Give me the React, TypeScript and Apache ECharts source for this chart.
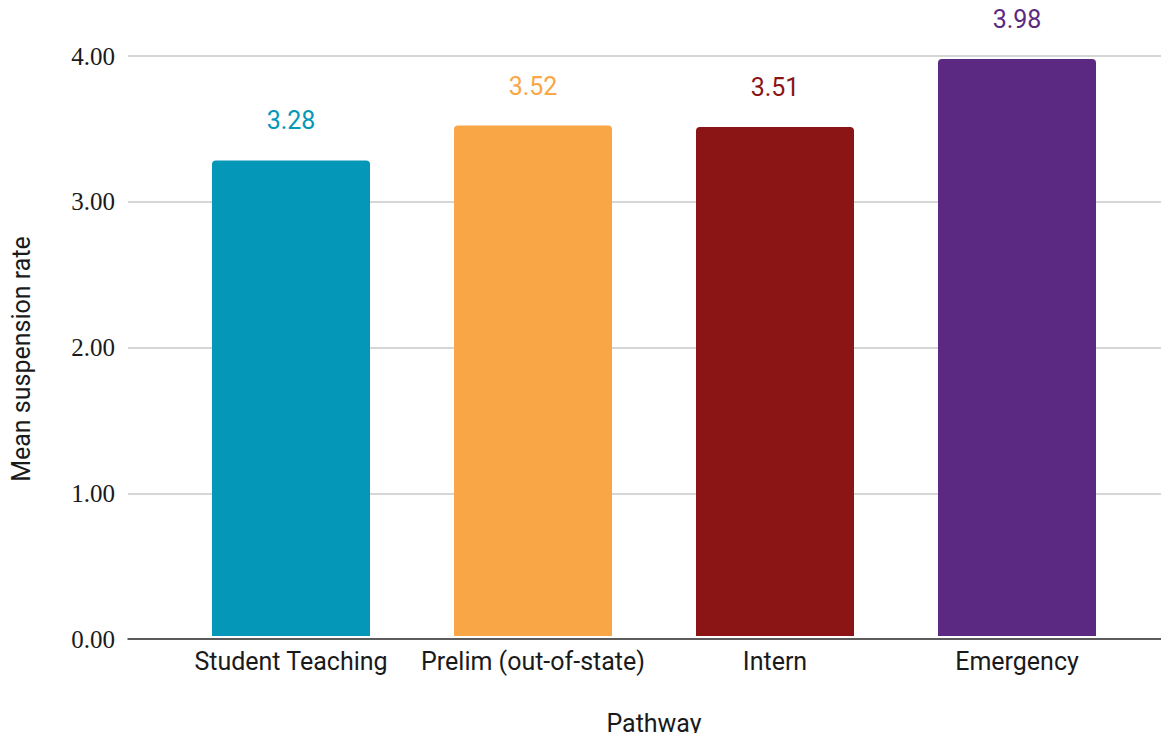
import React, { useEffect, useRef } from "react";
import * as echarts from "echarts";

const categories = ["Student Teaching", "Prelim (out-of-state)", "Intern", "Emergency"];
const values = [3.28, 3.52, 3.51, 3.98];
const barColors = ["#0497b7", "#f9a647", "#8b1515", "#5b2981"];
const yTicks = [0, 1, 2, 3, 4];

const SANS = "Roboto, 'Noto Sans', Arial, sans-serif";
const SERIF = "'Liberation Serif', 'Times New Roman', serif";

export default function App() {
  const ref = useRef<HTMLDivElement>(null);

  useEffect(() => {
    if (!ref.current) return;
    const chart = echarts.init(ref.current, null, { renderer: "svg" });
    const yMin = yTicks[0];
    const yMax = yTicks[yTicks.length - 1];

    chart.setOption({
      animation: false,
      backgroundColor: "#ffffff",
      grid: [
        // gridlines and value axis span the full width
        { left: 128, right: 0, top: 56, bottom: 102 },
        // bars sit in a slightly narrower band
        { left: 170, right: 31, top: 56, bottom: 102 },
      ],
      xAxis: [
        {
          gridIndex: 0,
          type: "value",
          min: 0,
          max: 1,
          axisLine: { show: true, onZero: true, lineStyle: { color: "#333333", width: 1.5 } },
          axisTick: { show: false },
          axisLabel: { show: false },
          splitLine: { show: false },
        },
        {
          gridIndex: 1,
          type: "category",
          data: categories,
          axisLine: { show: false },
          axisTick: { show: false },
          axisLabel: {
            color: "#1a1a1a",
            fontFamily: SANS,
            fontSize: 25,
            margin: 13,
            interval: 0,
          },
          name: "Pathway",
          nameLocation: "middle",
          nameGap: 75,
          nameTextStyle: { color: "#1a1a1a", fontFamily: SANS, fontSize: 25 },
        },
      ],
      yAxis: [
        {
          gridIndex: 0,
          type: "value",
          min: yMin,
          max: yMax,
          interval: 1,
          axisLine: { show: false },
          axisTick: { show: false },
          axisLabel: {
            color: "#1a1a1a",
            fontFamily: SERIF,
            fontSize: 25,
            margin: 13,
            formatter: (v: number) => v.toFixed(2),
          },
          splitLine: { show: true, lineStyle: { color: "#c8c8c8", width: 1.5 } },
          name: "Mean suspension rate",
          nameLocation: "middle",
          nameGap: 94,
          nameTextStyle: {
            color: "#1a1a1a",
            fontFamily: SANS,
            fontSize: 25,
            padding: [0, 23, 0, 0],
          },
        },
        {
          gridIndex: 1,
          type: "value",
          min: yMin,
          max: yMax,
          show: false,
          splitLine: { show: false },
        },
      ],
      series: [
        {
          type: "bar",
          xAxisIndex: 1,
          yAxisIndex: 1,
          barWidth: 158,
          data: values.map((v, i) => ({
            value: v,
            itemStyle: { color: barColors[i], borderRadius: [4, 4, 0, 0] },
            label: { color: barColors[i] },
          })),
          label: {
            show: true,
            position: "top",
            distance: 27,
            fontFamily: SANS,
            fontSize: 25,
            formatter: (p: any) => Number(p.value).toFixed(2),
          },
          z: 3,
        },
      ],
    });

    return () => chart.dispose();
  }, []);

  return <div ref={ref} style={{ width: 1169, height: 741, margin: -8 }} />;
}
